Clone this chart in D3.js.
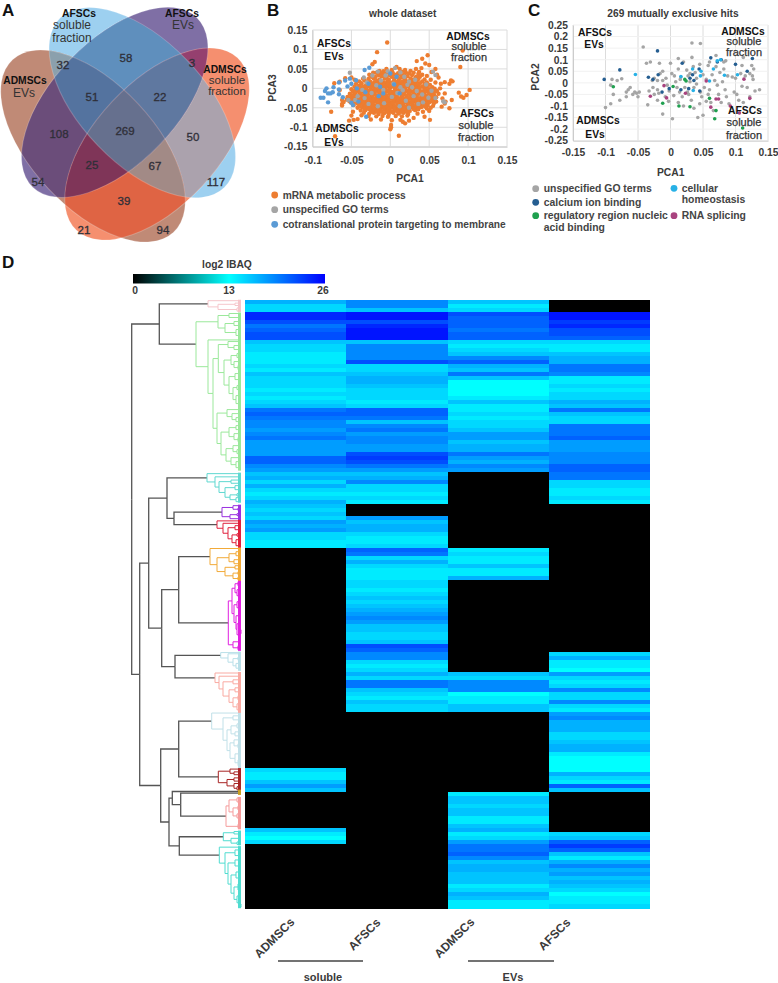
<!DOCTYPE html>
<html>
<head>
<meta charset="utf-8">
<script src="https://cdn.jsdelivr.net/npm/d3@7"></script>
<style>
  body { margin: 0; background: #fff; }
  text { font-family: "Liberation Sans", Arial, sans-serif; }
</style>
</head>
<body>
<svg id="fig" width="778" height="983"></svg>
<script>
// ---- panel A data
const vennSets = ["b", "p", "o", "n"]; // AFSCs soluble, AFSCs EVs, ADMSCs soluble, ADMSCs EVs
const vennRegions = ["b", "p", "o", "n", "bp", "bn", "bo", "po", "pn", "on", "bpn", "bpo", "bon", "pon", "bpon"];
const vennCounts = [117, 54, 21, 94, 58, 32, 50, 3, 108, 39, 51, 22, 67, 25, 269];

// ---- panel B data, [PCA1, PCA3]
const mrnaPoints = [
  [-.004,.118],[-.017,.093],[-.02,.068],[-.023,.062],[.093,.097],[.09,.055],[.048,.085],[.041,.076],[.034,.07],[.045,.064],
  [.05,.06],[.058,.05],[.04,.052],[.053,.042],[.06,.035],[.062,.028],[.078,.02],[.076,.012],[.08,.018],[.07,.016],
  [.065,.012],[.058,.015],[.052,.022],[.088,-.011],[.091,-.021],[.094,-.024],[.098,-.017],[.102,-.004],[.076,-.051],[.079,-.03],
  [.07,-.039],[.071,-.034],[.067,-.026],[.059,-.034],[.064,0],[.07,-.013],[.066,-.047],[.051,-.081],[.044,-.073],[.019,-.09],
  [.016,-.086],[.013,-.081],[.011,-.122],[.001,-.094],[.001,-.1],[0,-.105],[-.071,-.123],[-.076,-.06],[-.053,-.083],[-.047,-.081],
  [-.042,-.079],[-.037,-.069],[-.062,-.04],[-.062,-.03],[-.065,-.004],[-.072,.013],[-.065,.017],[-.058,.026],[-.05,.028],[-.046,.022],
  [-.005,.05],[.008,.055],[.012,.05],[.019,.047],[.033,.05],[-.014,.045],[-.009,.044],[.002,.047],[.015,.043],[.026,.045],
  [.037,.042],[-.022,.04],[-.018,.04],[-.012,.039],[-.004,.041],[.003,.04],[.01,.039],[.02,.041],[.024,.038],[.03,.04],
  [.036,.037],[-.027,.035],[-.015,.034],[-.008,.036],[-.001,.034],[.006,.035],[.014,.033],[.018,.036],[.028,.034],[.041,.035],
  [-.024,.03],[-.019,.029],[-.011,.031],[-.005,.028],[.002,.03],[.009,.029],[.016,.028],[.022,.031],[.033,.029],[.038,.03],
  [.047,.032],[-.035,.025],[-.028,.024],[-.021,.025],[-.014,.023],[-.007,.025],[-.002,.023],[.005,.024],[.012,.025],[.019,.023],
  [.026,.025],[.03,.023],[.036,.024],[.044,.023],[-.04,.018],[-.033,.02],[-.026,.018],[-.017,.019],[-.011,.017],[-.003,.019],
  [.004,.018],[.01,.019],[.016,.017],[.023,.018],[.029,.017],[.034,.019],[.041,.018],[.047,.015],[-.044,.012],[-.037,.013],
  [-.03,.012],[-.024,.013],[-.018,.011],[-.012,.013],[-.006,.012],[0,.013],[.007,.012],[.013,.013],[.019,.011],[.026,.012],
  [.032,.011],[.038,.013],[.044,.011],[.051,.009],[-.046,.005],[-.04,.007],[-.034,.005],[-.028,.006],[-.022,.005],[-.016,.007],
  [-.009,.005],[-.003,.006],[.003,.005],[.01,.007],[.016,.005],[.022,.006],[.028,.005],[.035,.006],[.041,.005],[.047,.004],
  [.054,.003],[-.05,-.002],[-.043,0],[-.037,-.001],[-.031,.001],[-.025,-.002],[-.019,0],[-.013,-.001],[-.007,.001],[-.001,-.001],
  [.006,0],[.012,-.002],[.019,.001],[.025,-.001],[.031,0],[.037,-.002],[.044,-.001],[.05,-.002],[.057,-.001],[-.048,-.008],
  [-.042,-.006],[-.036,-.008],[-.029,-.007],[-.023,-.009],[-.017,-.006],[-.011,-.008],[-.004,-.007],[.002,-.009],[.009,-.006],[.015,-.008],
  [.021,-.007],[.028,-.009],[.034,-.006],[.04,-.008],[.047,-.007],[.053,-.009],[.06,-.007],[-.052,-.014],[-.046,-.015],[-.039,-.013],
  [-.033,-.015],[-.027,-.014],[-.02,-.016],[-.014,-.013],[-.008,-.015],[-.001,-.014],[.005,-.016],[.012,-.013],[.018,-.015],[.024,-.014],
  [.031,-.016],[.037,-.013],[.043,-.015],[.05,-.014],[.056,-.016],[.062,-.014],[-.055,-.022],[-.049,-.021],[-.043,-.023],[-.036,-.021],
  [-.03,-.022],[-.024,-.02],[-.017,-.023],[-.011,-.021],[-.005,-.022],[.002,-.02],[.008,-.023],[.015,-.021],[.021,-.022],[.027,-.02],
  [.034,-.023],[.04,-.021],[.046,-.022],[.053,-.02],[.059,-.023],[-.056,-.029],[-.05,-.028],[-.044,-.03],[-.037,-.028],[-.031,-.029],
  [-.025,-.027],[-.018,-.03],[-.012,-.028],[-.006,-.029],[.001,-.027],[.007,-.03],[.013,-.028],[.02,-.029],[.026,-.027],[.032,-.03],
  [.039,-.028],[.045,-.029],[.051,-.027],[.057,-.03],[-.051,-.036],[-.045,-.035],[-.038,-.037],[-.032,-.035],[-.026,-.036],[-.019,-.034],
  [-.013,-.037],[-.007,-.035],[0,-.036],[.006,-.034],[.012,-.037],[.019,-.035],[.025,-.036],[.031,-.034],[.038,-.037],[.044,-.035],
  [.05,-.036],[.056,-.038],[-.06,-.035],[-.047,-.043],[-.04,-.042],[-.034,-.044],[-.028,-.042],[-.021,-.043],[-.015,-.041],[-.009,-.044],
  [-.002,-.042],[.004,-.043],[.01,-.041],[.017,-.044],[.023,-.042],[.029,-.043],[.036,-.041],[.042,-.044],[.048,-.043],[.055,-.045],
  [-.062,-.044],[-.042,-.05],[-.036,-.049],[-.03,-.051],[-.023,-.049],[-.017,-.05],[-.011,-.048],[-.004,-.051],[.002,-.049],[.008,-.05],
  [.015,-.048],[.021,-.051],[.027,-.049],[.034,-.05],[.04,-.048],[.047,-.052],[.052,-.05],[-.038,-.057],[-.032,-.056],[-.025,-.058],
  [-.019,-.056],[-.013,-.057],[-.006,-.055],[0,-.058],[.006,-.056],[.013,-.057],[.019,-.055],[.025,-.058],[.032,-.056],[.042,-.06],
  [.05,-.058],[-.048,-.06],[-.034,-.063],[-.027,-.065],[-.021,-.063],[-.015,-.066],[-.008,-.064],[-.002,-.066],[.004,-.063],[.011,-.065],
  [.017,-.063],[.023,-.066],[.035,-.065],[-.05,-.07],[-.028,-.071],[-.018,-.072],[-.01,-.071],[-.003,-.073],[.007,-.071],[.015,-.072],
  [.022,-.07],[.03,-.076],[-.025,-.08],[-.012,-.08],[.002,-.082],[.024,-.083],
  // dense core of the cloud
  [-.02,.016],[-.014,.016],[-.008,.015],[-.001,.016],[.007,.016],[.013,.016],[.02,.015],[.026,.015],
  [-.031,.009],[-.025,.009],[-.02,.009],[-.015,.01],[-.009,.009],[-.003,.01],[.004,.009],[.01,.01],[.016,.009],[.023,.009],[.03,.008],[.036,.009],
  [-.037,.003],[-.031,.003],[-.025,.002],[-.019,.003],[-.012,.003],[-.006,.002],[0,.003],[.007,.003],[.013,.002],[.019,.003],[.025,.002],[.032,.003],[.038,.002],[.044,.002],
  [-.045,-.004],[-.039,-.004],[-.033,-.004],[-.026,-.005],[-.02,-.004],[-.014,-.004],[-.007,-.004],[-.001,-.004],[.006,-.003],[.012,-.005],[.018,-.004],[.025,-.004],[.031,-.004],[.037,-.005],[.044,-.004],[.05,-.005],
  [-.045,-.011],[-.039,-.01],[-.032,-.011],[-.026,-.011],[-.02,-.011],[-.014,-.01],[-.007,-.011],[-.001,-.011],[.005,-.01],[.012,-.011],[.018,-.011],[.024,-.01],[.031,-.011],[.037,-.01],[.044,-.011],[.05,-.011],[.056,-.01],
  [-.049,-.018],[-.042,-.018],[-.036,-.018],[-.03,-.018],[-.023,-.018],[-.017,-.019],[-.011,-.018],[-.005,-.018],[.002,-.017],[.008,-.018],[.015,-.018],[.021,-.019],[.027,-.018],[.034,-.018],[.04,-.017],[.046,-.018],[.053,-.018],
  [-.052,-.025],[-.046,-.025],[-.04,-.026],[-.034,-.025],[-.027,-.025],[-.021,-.026],[-.015,-.025],[-.008,-.025],[-.002,-.024],[.004,-.025],[.011,-.025],[.017,-.026],[.023,-.025],[.03,-.025],[.036,-.026],[.042,-.025],[.049,-.025],[.055,-.026],
  [-.053,-.032],[-.047,-.032],[-.041,-.033],[-.035,-.032],[-.028,-.032],[-.022,-.032],[-.016,-.032],[-.009,-.032],[-.003,-.032],[.004,-.031],[.01,-.033],[.016,-.032],[.022,-.032],[.029,-.032],[.035,-.033],[.042,-.032],[.048,-.032],[.054,-.033],
  [-.048,-.039],[-.042,-.039],[-.035,-.04],[-.029,-.039],[-.023,-.039],[-.016,-.038],[-.01,-.04],[-.004,-.039],[.003,-.039],[.009,-.038],[.015,-.04],[.022,-.039],[.028,-.039],[.034,-.038],[.041,-.04],[.047,-.039],
  [-.039,-.046],[-.032,-.046],[-.026,-.046],[-.019,-.046],[-.013,-.046],[-.006,-.046],[0,-.046],[.006,-.046],[.013,-.046],[.019,-.047],[.025,-.046],[.032,-.046],[.038,-.046],[.045,-.047],
  [-.033,-.053],[-.027,-.053],[-.021,-.053],[-.014,-.053],[-.008,-.053],[-.002,-.053],[.005,-.053],[.011,-.053],[.017,-.053],[.023,-.053],[.03,-.053],[.036,-.054],
  [-.024,-.06],[-.017,-.06],[-.011,-.06],[-.004,-.06],[.002,-.06],[.009,-.06],[.015,-.06],[.021,-.06]
];
const unspecifiedPointsB = [
  [-.052,.04],[.055,.043],[.058,.034],[-.054,-.03],[-.034,.028],[-.03,.015],[-.036,-.004],[-.023,.033],[-.016,.043],[-.012,.02],
  [-.018,.008],[-.024,-.012],[-.033,-.025],[-.042,-.02],[-.006,.033],[.004,.012],[.013,.041],[.018,.03],[.013,.003],[.009,-.012],
  [.024,.017],[.028,.003],[.034,-.007],[.03,-.02],[.02,-.032],[.041,-.016],[.049,-.024],[.042,-.036],[.016,-.005],[.002,-.022],
  [-.008,-.038],[-.016,-.046],[.012,-.046],[.024,-.05],[.036,-.04],[.058,-.025],[.053,-.006],[.046,.01],[-.003,.044],[.006,.052],
  [-.028,-.04],[-.045,-.03],[.07,-.036],[.068,-.033],[.022,.009],[.032,.022],[-.009,-.004]
];
const translationPoints = [
  [-.0895,-.024],[-.086,-.024],[-.084,-.007],[-.08,-.036],[-.08,-.013],[-.077,-.013],[-.074,-.01],[-.073,.003],[-.082,0],[-.066,-.003],
  [-.066,.015],[-.058,.02],[-.066,-.015],[-.061,-.023],[-.052,.025],[-.044,.021],[-.05,-.037],[-.033,.047],[-.027,.053],[-.048,-.043],
  [-.041,-.034],[-.031,-.073],[-.043,0],[-.013,.004],[-.009,-.013],[.008,.03],[.012,-.013],[0,.038],[-.032,-.01],[-.055,.005],
  [-.05,.012],[-.028,.012],[.005,.01],[-.015,-.02]
];

// ---- panel C data, [PCA1, PCA2]
const unspecifiedPointsC = [
  [-.042,.155],[-.037,.085],[-.031,.09],[-.017,.085],[0,.085],[.033,.172],[.046,.17],[.033,.11],[.012,.105],[.06,.09],
  [.07,.118],[.085,.095],[.082,.09],[.112,.11],[.125,.075],[.128,.06],[.122,.04],[.126,.03],[.127,.015],[.11,.075],
  [-.09,.015],[-.082,.01],[-.075,.018],[-.092,-.01],[-.088,-.05],[-.092,-.09],[-.1,-.107],[-.078,-.075],[-.065,-.03],[-.068,-.04],
  [-.068,-.06],[-.058,-.05],[-.052,-.045],[-.048,-.04],[-.05,-.06],[-.055,-.04],[-.062,-.02],[-.035,-.095],[-.033,-.035],[-.027,-.02],
  [-.025,-.05],[-.02,-.075],[-.02,-.03],[-.016,.04],[-.025,.02],[-.012,.05],[-.012,.01],[-.007,.02],[-.005,-.01],[-.002,-.035],
  [.002,.04],[.006,.03],[.008,.005],[.01,-.02],[.012,.06],[.014,-.04],[.016,.025],[.018,-.06],[.02,.09],[.022,-.02],
  [.025,.055],[.027,.03],[.028,-.05],[.03,.005],[.032,-.075],[.035,.07],[.036,-.02],[.038,.045],[.04,.02],[.042,-.15],
  [.045,.08],[.046,-.04],[.048,-.06],[.05,.035],[.05,-.14],[.052,-.02],[.055,.015],[.058,.075],[.06,-.03],[.062,-.085],
  [.064,.035],[.066,-.12],[.068,.01],[.07,.07],[.072,-.01],[.074,-.05],[.076,.045],[.078,-.085],[.08,.005],[.082,.06],
  [.084,-.03],[.086,-.06],[.088,.03],[.09,-.09],[.095,.025],[.098,-.04],[.1,.02],[.102,-.05],[.105,-.075],[.108,.04],
  [.11,-.015],[.112,-.085],[.115,.03],[.118,-.02],[.122,-.06],[.13,-.035],[.137,-.03],[-.012,-.135],[.003,-.155],[-.008,-.06],
  [-.003,-.08],[.012,-.085],[.02,-.1],[.026,-.04],[.036,-.11],[.045,-.09],[.055,-.08],[-.028,.01],[-.02,.01],[-.018,-.045],
  [.015,.015],[.005,-.055],[.03,.04],[.04,-.005],[.058,-.05]
];
const calciumPoints = [
  [-.102,.015],[-.078,.056],[-.02,.138],[-.034,.024],[-.027,.015],[-.019,.035],[-.013,-.04],[-.002,-.025],[.016,-.03],[.018,.085],
  [.03,.02],[.034,.035],[.036,.01],[.028,-.025],[.044,.06],[.045,-.035],[.062,.108],[.072,.09],[.078,.1],[.1,.08],
  [.118,.05],[.126,.105]
];
const regulatoryPoints = [
  [-.088,-.017],[-.012,-.088],[.004,-.016],[.013,-.1],[.022,.015],[.024,.008],[.03,-.103],[.06,-.067],[.07,-.12],[.068,-.155],
  [.111,-.195]
];
const homeostasisPoints = [
  [-.054,.036],[.016,.027],[.034,.06],[.035,-.033],[.047,.05],[.046,.03],[.06,.008],[.066,.06],[.072,.095],[.077,.1],
  [.083,.033],[.103,.035]
];
const splicingPoints = [
  [-.031,-.058],[-.01,-.012],[-.006,-.065],[.023,-.045],[.055,.008],[.062,-.105],[.07,-.07],[.074,-.07],[.092,-.1],[.106,-.13],
  [.113,.016],[.122,-.067]
];

// ---- panel D data, one value per heatmap row (log2 iBAQ, 0 = not detected)
const admscSoluble = [
  17,15,15,24,24,22,20,21,22,22,
  16,15,15,14,14,14,15,14,16,15,
  15,15,14,15,14,15,16,20,21,20,
  19,19,18,19,20,18,18,18,18,21,
  21,19,18,16,17,15,17,15,14,15,
  17,16,15,16,15,18,17,18,15,15,
  14,14,0,0,0,0,0,0,0,0,
  0,0,0,0,0,0,0,0,0,0,
  0,0,0,0,0,0,0,0,0,0,
  0,0,0,0,0,0,0,0,0,0,
  0,0,0,0,0,0,0,0,0,0,
  0,0,0,0,0,0,0,15,14,14,
  16,18,16,0,0,0,0,0,0,0,
  0,0,16,14,13,15,0,0,0,0,
  0,0,0,0,0,0,0,0,0,0,
  0,0
];
const afscSoluble = [
  19,19,16,25,25,22,24,25,25,25,
  16,19,19,19,19,22,15,15,16,17,
  17,16,15,15,15,14,15,21,21,20,
  16,19,20,18,19,19,18,18,22,23,
  22,20,18,16,17,19,15,15,14,15,
  14,0,0,0,18,16,17,17,15,14,
  14,15,21,20,15,17,15,14,14,14,
  15,15,14,15,16,15,16,17,18,19,
  18,16,16,15,15,16,22,21,19,19,
  15,14,15,17,15,20,20,16,15,14,
  16,15,15,0,0,0,0,0,0,0,
  0,0,0,0,0,0,0,0,0,0,
  0,0,0,0,0,0,0,0,0,0,
  0,0,0,0,0,0,0,0,0,0,
  0,0,0,0,0,0,0,0,0,0,
  0,0
];
const admscEvs = [
  16,14,15,22,21,21,21,20,21,21,
  15,14,15,16,19,21,17,16,20,16,
  13,13,13,13,14,16,14,14,15,14,
  15,15,16,18,18,16,17,17,20,18,
  17,19,18,0,0,0,0,0,0,0,
  0,0,0,0,0,0,0,0,0,0,
  0,0,14,15,14,14,16,14,14,17,
  0,0,0,0,0,0,0,0,0,0,
  0,0,0,0,0,0,0,0,0,0,
  0,0,0,16,15,19,19,19,13,14,
  14,16,16,0,0,0,0,0,0,0,
  0,0,0,0,0,0,0,0,0,0,
  0,0,0,14,16,16,15,16,16,14,
  14,16,17,14,15,18,20,20,21,19,
  16,17,17,16,16,16,14,15,17,16,
  14,14
];
const afscEvs = [
  0,0,0,25,25,23,24,22,22,21,
  15,14,14,16,17,17,20,20,19,14,
  14,15,14,15,15,17,16,20,16,15,
  15,20,20,20,21,18,18,18,19,19,
  19,21,21,20,20,15,15,14,14,15,
  14,0,0,0,0,0,0,0,0,0,
  0,0,0,0,0,0,0,0,0,0,
  0,0,0,0,0,0,0,0,0,0,
  0,0,0,0,0,0,0,0,15,17,
  14,14,13,18,15,14,15,19,15,15,
  19,15,14,18,19,17,17,17,15,15,
  16,17,17,14,13,13,13,13,17,15,
  14,21,16,0,0,0,0,0,0,0,
  0,0,0,15,16,21,23,21,16,14,
  17,19,17,18,16,17,16,15,13,14,
  14,15
];
const heatColumns = ["ADMSCs soluble", "AFSCs soluble", "ADMSCs EVs", "AFSCs EVs"];
const heatValues = [admscSoluble, afscSoluble, admscEvs, afscEvs];
const colorTicks = [0, 13, 26];

// dendrogram clusters: [distance, child, child], a plain number is a leaf at that row
const pinkCluster = [35, -0.2, [25, [8, .4, 1], [6, 1.6, 2.4]]];
const greenUpper = [25, [14, 3, 4], [18, [9, 5, 6], [7, 7, [4, 8, 9]]]];
const greenA = [24.7, [15, 10, [9, 11, 12]],
  [19, [12, [6, 13, 14], [9, 15, [5, 16, 17]]], [14, [8, 18, [4, 19, 20]], [10, [6, 21, 22], [7, [3, 23, 24], [4, 25, 26]]]]]];
const greenB = [26, [16, 27, [11, 28, [7, 29, 30]]],
  [22, [14, [7, 31, 32], [9, 33, [5, 34, 35]]], [17, [10, 36, [6, 37, 38]], [12, 39, [7, 40, [4, 41, 42]]]]]];
const greenCluster = [47, greenUpper, [35, 9.6, [30, greenA, greenB]]];
const tealCluster = [36, 43, [28, 43.8, [24, [12, 44.6, 45.4], [18, [8, 46, 47], [13, [6, 48, 48.6], [7, 49, 50]]]]]];
const purpleCluster = [21, [10, 51, [5, 51.6, 52.2]], [13, [6, 53, 53.5], [4, 54, 54.5]]];
const redCluster = [26, 54.8, [20, 55.4, [15, [8, 56, 57], [11, [6, 58, 58.6], [7, [3, 59, 60], [3, 60.6, 61.4]]]]]];
const orangeCluster = [33, 61.7, [26, [14, [7, 62.5, 63.5], [9, 64.5, 65.5]], [18, [8, 66, 66.8], [10, [5, 67.5, 68.2], [5, 68.8, 69.6]]]]];
const magentaCluster = [14.7,
  [11, [8, [5, 70, 71], [6, 72, [4, 73, 74]]], [9, [6, 75, [4, 76, 77]], [7, [4, 78, 79], [6, [3, 80, 81], [4, [2, 82, 83], 84]]]]],
  [10, 85, [5, 86, 87]]];
const skyCluster = [22.3, 87.7, [15, 88, [10, [5, 88.8, 89.6], [7, 90.4, [4, 91.2, 92]]]]];
const salmonCluster = [28, 92.8, [24, 93.6, [20, [10, 94.5, 95.5], [14, [8, 96.5, 97.5], [10, [5, 98.5, 99.5], [6, 100.5, [3, 101.5, 102.5]]]]]]];
const paleCluster = [31.3, 102.8, [20, [10, 103.5, 104.5],
  [16, [12, [6, 105.5, 106.5], [8, 107.5, 108.5]], [13, [9, 109.5, [5, 110.5, 111.5]], [8, [4, 112.5, 113.5], [5, 114.5, [3, 115.5, 116.4]]]]]]];
const darkRedCluster = [24.7, [13, 116.8, [9, 117.5, 118.2]], [16, [9, 119, 119.8], [9, 120.4, [6, 121.2, 122]]]];
const goldA = [4, 122.2, 122.6];
const goldB = [4, 122.6, 123];
const salmon2Cluster = [17, [14, [6, 124, 125], [10, [5, 126, 127], [6, 128, 129]]], [5, 130.6, 131.6]];
const tealSmall = [19.7, [9, 132.4, 133], [12, [4, 133.8, 134.4], [6, 135, 135.6]]];
const tealBig = [23.7, 136.3, [18, [8, 137, [4, 138, 138.8]],
  [15, [8, 139.5, [4, 140.5, 141.5]], [12, [7, 142.5, [3, 143.5, 144.5]], [9, [5, 145.5, [3, 146.5, 147.5]], [6, 148.5, [4, 149.5, [2, 150.5, 151.3]]]]]]]];

const dendroTree = [111.3,
  [83.7, pinkCluster, greenCluster],
  [103.3,
    [94.3,
      [76, tealCluster, [69, purpleCluster, redCluster]],
      [81.3, [64.3, orangeCluster, magentaCluster], [68, skyCluster, salmonCluster]]],
    [82.3,
      [64.3, paleCluster, darkRedCluster],
      [74, [70.7, goldA, [62.3, goldB, salmon2Cluster]], [63.7, tealSmall, tealBig]]]]];

// ---- styles
const vennColors = {
  b: "#9dd0f0", p: "#7f6fa5", o: "#f58f6f", n: "#c08a76",
  bp: "#5f8fbd", bn: "#8ba0ad", bo: "#aba2ad", po: "#95406f", pn: "#6b4d7a", on: "#df6444",
  bpn: "#54739f", bpo: "#5f78a0", bon: "#a28a86", pon: "#7f3558", bpon: "#66708e"
};
const clusterColors = new Map([
  [pinkCluster, "#f5c6cb"], [greenCluster, "#9be89b"], [tealCluster, "#5fd8d0"], [purpleCluster, "#9a30e0"],
  [redCluster, "#e0203c"], [orangeCluster, "#f2aa38"], [magentaCluster, "#e020e0"], [skyCluster, "#b9dfe8"],
  [salmonCluster, "#f9aaa2"], [paleCluster, "#c0e0e8"], [darkRedCluster, "#a82424"], [goldA, "#c8a020"], [goldB, "#c8a020"],
  [salmon2Cluster, "#f59c9c"], [tealSmall, "#50dcd0"], [tealBig, "#50dcd0"]
]);
const darkLine = "#555";
const textDark = "#3a3a3a";

const svg = d3.select("#fig");

function label(x, y, txt, size, weight, anchor, fill) {
  return svg.append("text").attr("x", x).attr("y", y).text(txt)
    .attr("font-size", size).attr("font-weight", weight || "bold")
    .attr("text-anchor", anchor || "middle").attr("fill", fill || textDark);
}

// panel letters
[["A", 2, 16], ["B", 267, 16], ["C", 528, 16], ["D", 2, 268]].forEach(d => {
  label(d[1], d[2], d[0], 17, "bold", "start", "#111");
});

// ---- panel A, painted from single sets up to the 4-way overlap
const vennShape = {
  b: { cx: 142.3, cy: 102.7, rot: 46 },
  p: { cx: 114.7, cy: 102.3, rot: -46 },
  o: { cx: 157, cy: 144, rot: -47 },
  n: { cx: 93, cy: 146, rot: 47 }
};
const vennRx = 118, vennRy = 61.7;
const defs = svg.append("defs");
vennSets.forEach(s => {
  defs.append("clipPath").attr("id", "clip-" + s)
    .append("ellipse")
    .attr("cx", vennShape[s].cx).attr("cy", vennShape[s].cy)
    .attr("rx", vennRx).attr("ry", vennRy)
    .attr("transform", `rotate(${vennShape[s].rot} ${vennShape[s].cx} ${vennShape[s].cy})`);
});
const vennG = svg.append("g");
vennRegions.forEach(r => {
  let g = vennG;
  r.split("").forEach(s => { g = g.append("g").attr("clip-path", `url(#clip-${s})`); });
  g.append("rect").attr("width", 262).attr("height", 260).attr("fill", vennColors[r]);
});
vennG.selectAll("ellipse.edge").data(vennSets).enter().append("ellipse")
  .attr("class", "edge")
  .attr("cx", d => vennShape[d].cx).attr("cy", d => vennShape[d].cy)
  .attr("rx", vennRx).attr("ry", vennRy)
  .attr("transform", d => `rotate(${vennShape[d].rot} ${vennShape[d].cx} ${vennShape[d].cy})`)
  .attr("fill", "none").attr("stroke", "#fff").attr("stroke-opacity", .22);

const vennLabelAt = {
  b: [216, 186], p: [38, 186], o: [84, 234], n: [163, 234],
  bp: [126, 62], bn: [63, 69], bo: [193, 141], po: [192, 67], pn: [59, 138], on: [124, 205],
  bpn: [92, 101], bpo: [160, 101], bon: [155, 170], pon: [92, 169], bpon: [125, 135]
};
vennRegions.forEach((r, i) => {
  label(vennLabelAt[r][0], vennLabelAt[r][1], vennCounts[i], 11.5, "normal", "middle", "#2f2f38")
    .attr("stroke", "#2f2f38").attr("stroke-width", .3);
});
label(79, 17, "AFSCs", 10.3, "bold", "middle", "#111");
label(72, 29, "soluble", 12, "normal", "middle", "#333");
label(72, 42, "fraction", 12, "normal", "middle", "#333");
label(182, 17, "AFSCs", 10.3, "bold", "middle", "#111");
label(183, 29, "EVs", 12, "normal", "middle", "#333");
label(25, 84, "ADMSCs", 10.3, "bold", "middle", "#111");
label(24, 97, "EVs", 12, "normal", "middle", "#333");
label(225, 73, "ADMSCs", 10.3, "bold", "middle", "#111");
label(227, 84, "soluble", 11.5, "normal", "middle", "#333");
label(227, 95, "fraction", 11.5, "normal", "middle", "#333");

// ---- scatter panels
function scatter(opt) {
  const x = d3.scaleLinear().domain(opt.xDomain).range(opt.xRange);
  const y = d3.scaleLinear().domain(opt.yDomain).range(opt.yRange);
  const g = svg.append("g");
  g.selectAll("line.gx").data(opt.xTicks).enter().append("line")
    .attr("x1", d => x(d)).attr("x2", d => x(d))
    .attr("y1", opt.yRange[0]).attr("y2", opt.yRange[1])
    .attr("stroke", "#dcdcdc").attr("stroke-width", 1);
  g.selectAll("line.gy").data(opt.yTicks).enter().append("line")
    .attr("x1", opt.xRange[0]).attr("x2", opt.xRange[1])
    .attr("y1", d => y(d)).attr("y2", d => y(d))
    .attr("stroke", opt.yGridColor).attr("stroke-width", 1);

  const ax = g.append("g").attr("transform", `translate(0,${opt.yRange[0]})`)
    .call(d3.axisBottom(x).tickValues(opt.xTicks).tickSize(0).tickPadding(opt.xPad).tickFormat(d => String(d)));
  const ay = g.append("g").attr("transform", `translate(${opt.xRange[0]},0)`)
    .call(d3.axisLeft(y).tickValues(opt.yTicks).tickSize(0).tickPadding(5).tickFormat(d => String(d)));
  [ax, ay].forEach(a => {
    a.select(".domain").attr("stroke", "#ccc");
    a.selectAll("text").attr("font-size", 10.3).attr("font-weight", "bold").attr("fill", textDark)
      .attr("font-family", '"Liberation Sans", Arial, sans-serif');
  });
  opt.series.forEach(s => {
    g.append("g").selectAll("circle").data(s.points).enter().append("circle")
      .attr("cx", d => x(d[0])).attr("cy", d => y(d[1])).attr("r", opt.r).attr("fill", s.color);
  });
}

const xTicksB = [-0.1, -0.05, 0, 0.05, 0.1, 0.15];
const yTicksB = [0.15, 0.1, 0.05, 0, -0.05, -0.1, -0.15];
scatter({
  xDomain: [-0.1, 0.15], xRange: [312.5, 507], yDomain: [-0.15, 0.15], yRange: [146.7, 30],
  xTicks: xTicksB, yTicks: yTicksB, xPad: 9.5, r: 2.2, yGridColor: "#dcdcdc",
  series: [
    { points: mrnaPoints, color: "#ed7d31" },
    { points: unspecifiedPointsB, color: "#a5a5a5" },
    { points: translationPoints, color: "#5b9bd5" }
  ]
});
const xTicksC = [-0.15, -0.1, -0.05, 0, 0.05, 0.1, 0.15];
const yTicksC = [0.25, 0.2, 0.15, 0.1, 0.05, 0, -0.05, -0.1, -0.15, -0.2, -0.25];
scatter({
  xDomain: [-0.15, 0.15], xRange: [573, 768], yDomain: [-0.25, 0.25], yRange: [140.7, 25],
  xTicks: xTicksC, yTicks: yTicksC, xPad: 8, r: 1.8, yGridColor: "#f1f1f1",
  series: [
    { points: unspecifiedPointsC, color: "#a5a5a5" },
    { points: calciumPoints, color: "#255e91" },
    { points: regulatoryPoints, color: "#1fa04f" },
    { points: homeostasisPoints, color: "#27b1e6" },
    { points: splicingPoints, color: "#a9437f" }
  ]
});

// wider grey words inside the plots
function soft(x, y, t) {
  label(x, y, t, 11, "normal", "middle", "#333").attr("stroke", "#333").attr("stroke-width", .25);
}

// panel B text
label(402.7, 17, "whole dataset", 10.2);
label(410, 182, "PCA1", 10.3);
label(0, 0, "PCA3", 10.3).attr("transform", "translate(276,88) rotate(-90)");
label(334, 47, "AFSCs", 10.3, "bold", "middle", "#111");
label(334, 59.5, "EVs", 10.3, "bold", "middle", "#111");
label(468, 39.5, "ADMSCs", 10.3, "bold", "middle", "#111");
soft(469, 50, "soluble");
soft(469, 61, "fraction");
label(477, 117, "AFSCs", 10.3, "bold", "middle", "#111");
soft(476, 128.5, "soluble");
soft(476, 141, "fraction");
label(337, 132, "ADMSCs", 10.3, "bold", "middle", "#111");
label(334, 146, "EVs", 10.3, "bold", "middle", "#111");

// panel C text
label(673, 17, "269 mutually exclusive hits", 10.2);
label(670.7, 176, "PCA1", 10.3);
label(0, 0, "PCA2", 10.3).attr("transform", "translate(539,77) rotate(-90)");
label(595, 36, "AFSCs", 10.3, "bold", "middle", "#111");
label(594, 48, "EVs", 10.3, "bold", "middle", "#111");
label(743, 34.5, "ADMSCs", 10.3, "bold", "middle", "#111");
soft(744, 45, "soluble");
soft(744, 56, "fraction");
label(598, 124, "ADMSCs", 10.3, "bold", "middle", "#111");
label(595, 138, "EVs", 10.3, "bold", "middle", "#111");
label(745, 113.5, "AFSCs", 10.3, "bold", "middle", "#111");
soft(744, 126, "soluble");
soft(744, 138.5, "fraction");

// legends
function legendItem(cx, cy, color, tx, lines, size) {
  svg.append("circle").attr("cx", cx).attr("cy", cy).attr("r", 3.4).attr("fill", color);
  lines.forEach((t, i) => label(tx, cy + 3.6 + i * 11.2, t, size, "bold", "start", "#444"));
}
legendItem(274.7, 195, "#ed7d31", 282.7, ["mRNA metabolic process"], 10.2);
legendItem(274.7, 209.7, "#a5a5a5", 282.7, ["unspecified GO terms"], 10.2);
legendItem(274.7, 224.3, "#5b9bd5", 282.7, ["cotranslational protein targeting to membrane"], 10.2);
legendItem(535.7, 188.7, "#a5a5a5", 543.7, ["unspecified GO terms"], 10.4);
legendItem(535.7, 202.3, "#255e91", 543.7, ["calcium ion binding"], 10.4);
legendItem(535.7, 215.7, "#1fa04f", 543.7, ["regulatory region nucleic", "acid binding"], 10.4);
legendItem(674, 188.3, "#27b1e6", 681.7, ["cellular", "homeostasis"], 10.4);
legendItem(674, 215.7, "#a9437f", 681.7, ["RNA splicing"], 10.4);

// ---- panel D heatmap
const nRows = admscSoluble.length;
const rowScale = d3.scaleBand().domain(d3.range(nRows)).range([299.5, 908]);
const colScale = d3.scaleBand().domain(heatColumns).range([245, 650]);
const heatColor = d3.scaleLinear().domain(colorTicks).range(["#000000", "#00ffff", "#0000ff"]);

const heat = svg.append("g").attr("shape-rendering", "crispEdges");
heatColumns.forEach((name, c) => {
  heat.append("g").selectAll("rect").data(heatValues[c]).enter().append("rect")
    .attr("x", colScale(name)).attr("width", colScale.bandwidth())
    .attr("y", (d, i) => rowScale(i)).attr("height", rowScale.bandwidth() + .5)
    .attr("fill", d => heatColor(d));
});

// colour bar
const barScale = d3.scaleLinear().domain([0, 26]).range([133, 325]);
const grad = defs.append("linearGradient").attr("id", "barGrad");
d3.range(0, 27, 13).forEach(v => {
  grad.append("stop").attr("offset", (v / 26 * 100) + "%").attr("stop-color", heatColor(v));
});
svg.append("rect").attr("x", barScale(0)).attr("y", 274).attr("width", barScale(26) - barScale(0)).attr("height", 9.5)
  .attr("fill", "url(#barGrad)");
label(227, 268, "log2 IBAQ", 10.3);
[135, 229, 323].forEach((x, i) => label(x, 294, colorTicks[i], 10.3));

// column captions
[["ADMSCs", 275, 938.5], ["AFSCs", 365, 935], ["ADMSCs", 455, 938.5], ["AFSCs", 555, 935]].forEach(d => {
  label(0, 0, d[0], 12, "bold").attr("dominant-baseline", "middle")
    .attr("transform", `translate(${d[1]},${d[2]}) rotate(-45)`);
});
[[278, 363], [468, 554]].forEach(d => {
  svg.append("line").attr("x1", d[0]).attr("x2", d[1]).attr("y1", 961).attr("y2", 961)
    .attr("stroke", "#444").attr("stroke-width", 1.5);
});
label(323, 981, "soluble", 11);
label(513, 981, "EVs", 11);

// ---- dendrogram
const distScale = d3.scaleLinear().domain([0, 112]).range([243, 131]);
const rowY = r => rowScale(0) + (r + .5) * rowScale.step();
const root = d3.hierarchy(dendroTree, d => Array.isArray(d) ? d.slice(1) : null);
root.eachAfter(n => {
  n.py = n.children ? d3.mean(n.children, c => c.py) : rowY(n.data);
  n.px = n.children ? distScale(n.data[0]) : distScale(2);
});
root.eachBefore(n => {
  n.col = clusterColors.get(n.data) || (n.parent ? n.parent.col : darkLine);
});
const dendro = svg.append("g").attr("fill", "none");
dendro.selectAll("path").data(root.links()).enter().append("path")
  .attr("d", l => `M${l.source.px},${l.source.py}V${l.target.py}H${l.target.px}`)
  .attr("stroke", l => l.source.col)
  .attr("stroke-width", l => l.source.col === darkLine ? 1.3 : 1);

// the leaves of each cluster merge into a solid strip next to the heatmap
const strips = root.descendants().filter(n => clusterColors.has(n.data));
svg.append("g").selectAll("rect").data(strips).enter().append("rect")
  .attr("x", distScale(5)).attr("width", distScale(2) - distScale(5))
  .attr("y", n => d3.min(n.leaves(), l => l.py) - 1)
  .attr("height", n => d3.max(n.leaves(), l => l.py) - d3.min(n.leaves(), l => l.py) + 2)
  .attr("fill", n => n.col);
</script>
</body>
</html>
